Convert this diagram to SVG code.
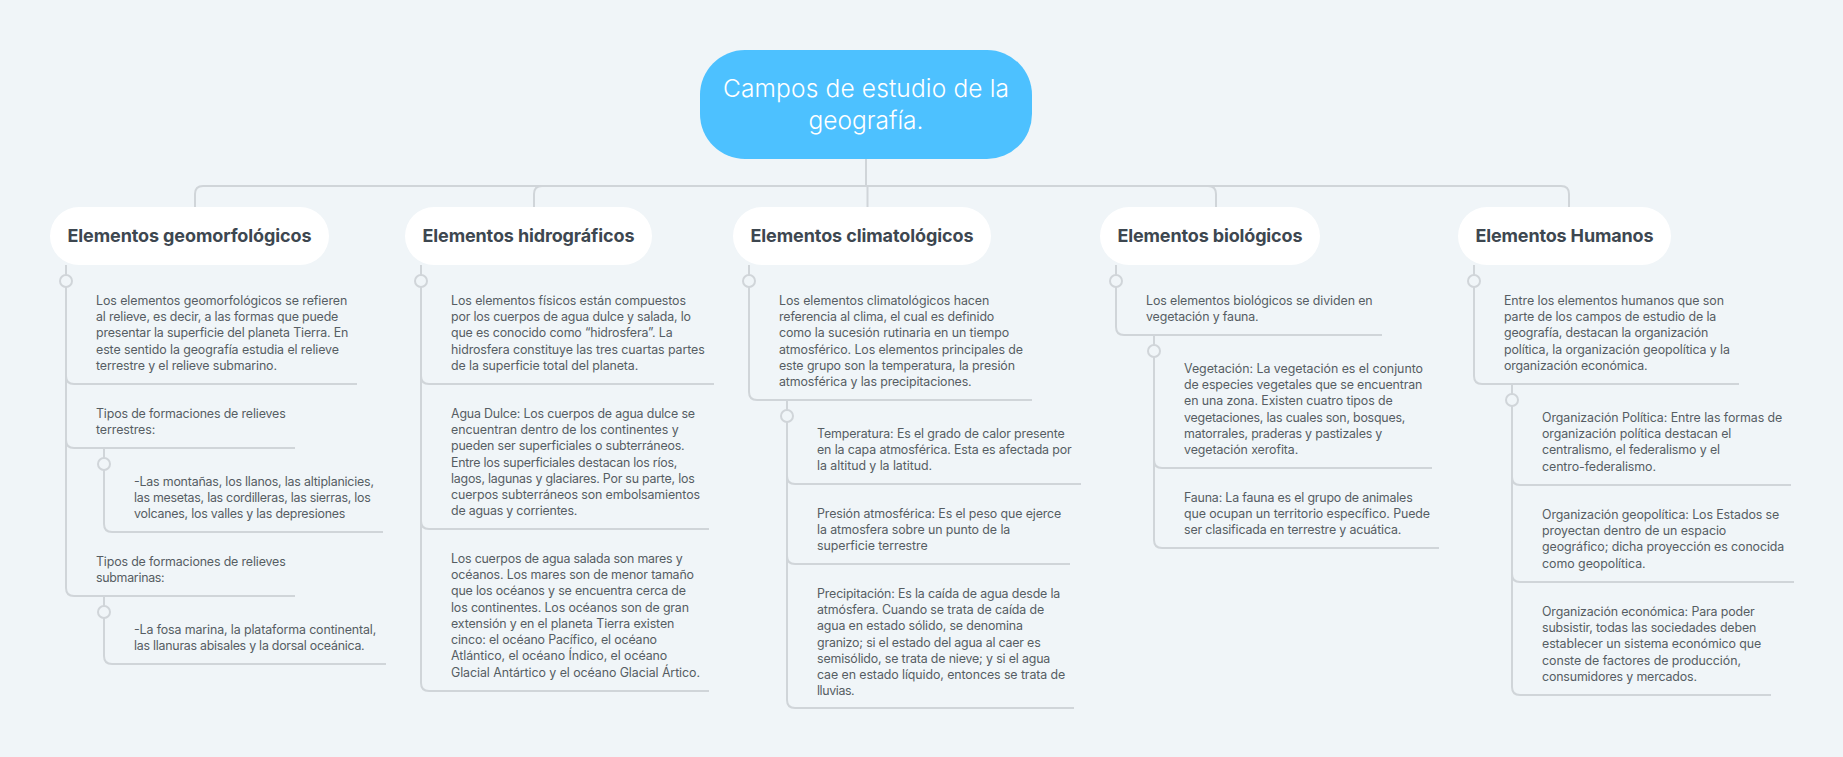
<svg xmlns="http://www.w3.org/2000/svg" width="1843" height="757" viewBox="0 0 1843 757">
<style>
.c{fill:none;stroke:#d0d5d9;stroke-width:2}
.d{fill:#f0f5f8;stroke:#d0d5d9;stroke-width:2}
text{font-family:"Inter","Noto Sans",sans-serif}
.b{font-size:12.4px;fill:#565d63}
.h{font-size:18px;font-weight:700;fill:#3d4750}
.r{font-size:24.5px;font-weight:300;fill:#fff;text-anchor:middle}
</style>
<rect width="1843" height="757" fill="#f0f5f8"/>
<g id="connectors">
<path class="c" d="M866 159V186"/>
<path class="c" d="M866 186H203Q195 186 195 194V207"/>
<path class="c" d="M866 186H542Q534 186 534 194V207"/>
<path class="c" d="M866 186H867.5V207"/>
<path class="c" d="M866 186H1208Q1216 186 1216 194V207"/>
<path class="c" d="M866 186H1561Q1569 186 1569 194V207"/>
<path class="c" d="M66 265V376Q66 384 74 384H357"/>
<path class="c" d="M66 265V440Q66 448 74 448H295"/>
<path class="c" d="M66 265V588Q66 596 74 596H295"/>
<path class="c" d="M104 448V524Q104 532 112 532H383"/>
<path class="c" d="M104 596V656Q104 664 112 664H386"/>
<path class="c" d="M421 265V376Q421 384 429 384H714"/>
<path class="c" d="M421 265V521Q421 529 429 529H709"/>
<path class="c" d="M421 265V683Q421 691 429 691H709"/>
<path class="c" d="M749 265V392Q749 400 757 400H1032"/>
<path class="c" d="M787 400V476Q787 484 795 484H1081"/>
<path class="c" d="M787 400V556Q787 564 795 564H1070"/>
<path class="c" d="M787 400V700Q787 708 795 708H1074"/>
<path class="c" d="M1116 265V327Q1116 335 1124 335H1382"/>
<path class="c" d="M1154 335V460Q1154 468 1162 468H1432"/>
<path class="c" d="M1154 335V540Q1154 548 1162 548H1439"/>
<path class="c" d="M1474 265V376Q1474 384 1482 384H1739"/>
<path class="c" d="M1512 384V477Q1512 485 1520 485H1791"/>
<path class="c" d="M1512 384V574Q1512 582 1520 582H1794"/>
<path class="c" d="M1512 384V687Q1512 695 1520 695H1771"/>
<circle class="d" cx="66" cy="281" r="6"/>
<circle class="d" cx="104" cy="464" r="6"/>
<circle class="d" cx="104" cy="612" r="6"/>
<circle class="d" cx="421" cy="281" r="6"/>
<circle class="d" cx="749" cy="281" r="6"/>
<circle class="d" cx="787" cy="416" r="6"/>
<circle class="d" cx="1116" cy="281" r="6"/>
<circle class="d" cx="1154" cy="351" r="6"/>
<circle class="d" cx="1474" cy="281" r="6"/>
<circle class="d" cx="1512" cy="400" r="6"/>
</g>
<g id="root"><rect x="700" y="50" width="332" height="109" rx="45" fill="#4dc1ff"/>
<text class="r"><tspan x="866" y="97" textLength="286">Campos de estudio de la</tspan><tspan x="866" y="129" textLength="115">geografía.</tspan></text></g>
<g id="n1"><rect x="50" y="207" width="279" height="58" rx="29" fill="#fff"/><text class="h" x="67.5" y="242" textLength="244">Elementos geomorfológicos</text></g>
<g id="n2"><rect x="405" y="207" width="247" height="58" rx="29" fill="#fff"/><text class="h" x="422.5" y="242" textLength="212">Elementos hidrográficos</text></g>
<g id="n3"><rect x="733" y="207" width="258" height="58" rx="29" fill="#fff"/><text class="h" x="750.5" y="242" textLength="223">Elementos climatológicos</text></g>
<g id="n4"><rect x="1100" y="207" width="220" height="58" rx="29" fill="#fff"/><text class="h" x="1117.5" y="242" textLength="185">Elementos biológicos</text></g>
<g id="n5"><rect x="1458" y="207" width="213" height="58" rx="29" fill="#fff"/><text class="h" x="1475.5" y="242" textLength="178">Elementos Humanos</text></g>
<g id="n1a"><text class="b"><tspan x="96" y="305" textLength="251.3">Los elementos geomorfológicos se refieren</tspan><tspan x="96" y="321" textLength="242.3">al relieve, es decir, a las formas que puede</tspan><tspan x="96" y="337" textLength="252.3">presentar la superficie del planeta Tierra. En</tspan><tspan x="96" y="354" textLength="243">este sentido la geografía estudia el relieve</tspan><tspan x="96" y="370" textLength="181">terrestre y el relieve submarino.</tspan></text></g>
<g id="n1b"><text class="b"><tspan x="96" y="418" textLength="189.7">Tipos de formaciones de relieves</tspan><tspan x="96" y="434" textLength="59.3">terrestres:</tspan></text></g>
<g id="n1b1"><text class="b"><tspan x="134" y="486" textLength="240">-Las montañas, los llanos, las altiplanicies,</tspan><tspan x="134" y="502" textLength="236.7">las mesetas, las cordilleras, las sierras, los</tspan><tspan x="134" y="518" textLength="211.3">volcanes, los valles y las depresiones</tspan></text></g>
<g id="n1c"><text class="b"><tspan x="96" y="566" textLength="189.7">Tipos de formaciones de relieves</tspan><tspan x="96" y="582" textLength="68.7">submarinas:</tspan></text></g>
<g id="n1c1"><text class="b"><tspan x="134" y="634" textLength="242.3">-La fosa marina, la plataforma continental,</tspan><tspan x="134" y="650" textLength="230.7">las llanuras abisales y la dorsal oceánica.</tspan></text></g>
<g id="n2a"><text class="b"><tspan x="451" y="305" textLength="235">Los elementos físicos están compuestos</tspan><tspan x="451" y="321" textLength="240">por los cuerpos de agua dulce y salada, lo</tspan><tspan x="451" y="337" textLength="221.7">que es conocido como “hidrosfera”. La</tspan><tspan x="451" y="354" textLength="253.7">hidrosfera constituye las tres cuartas partes</tspan><tspan x="451" y="370" textLength="187.3">de la superficie total del planeta.</tspan></text></g>
<g id="n2b"><text class="b"><tspan x="451" y="418" textLength="244">Agua Dulce: Los cuerpos de agua dulce se</tspan><tspan x="451" y="434" textLength="227.7">encuentran dentro de los continentes y</tspan><tspan x="451" y="450" textLength="233.7">pueden ser superficiales o subterráneos.</tspan><tspan x="451" y="467" textLength="226.3">Entre los superficiales destacan los ríos,</tspan><tspan x="451" y="483" textLength="243.7">lagos, lagunas y glaciares. Por su parte, los</tspan><tspan x="451" y="499" textLength="249">cuerpos subterráneos son embolsamientos</tspan><tspan x="451" y="515" textLength="126.3">de aguas y corrientes.</tspan></text></g>
<g id="n2c"><text class="b"><tspan x="451" y="563" textLength="231.7">Los cuerpos de agua salada son mares y</tspan><tspan x="451" y="579" textLength="243">océanos. Los mares son de menor tamaño</tspan><tspan x="451" y="595" textLength="235">que los océanos y se encuentra cerca de</tspan><tspan x="451" y="612" textLength="238">los continentes. Los océanos son de gran</tspan><tspan x="451" y="628" textLength="223.3">extensión y en el planeta Tierra existen</tspan><tspan x="451" y="644" textLength="206">cinco: el océano Pacífico, el océano</tspan><tspan x="451" y="660" textLength="216.3">Atlántico, el océano Índico, el océano</tspan><tspan x="451" y="677" textLength="249">Glacial Antártico y el océano Glacial Ártico.</tspan></text></g>
<g id="n3a"><text class="b"><tspan x="779" y="305" textLength="210.3">Los elementos climatológicos hacen</tspan><tspan x="779" y="321" textLength="215.3">referencia al clima, el cual es definido</tspan><tspan x="779" y="337" textLength="230.3">como la sucesión rutinaria en un tiempo</tspan><tspan x="779" y="354" textLength="244">atmosférico. Los elementos principales de</tspan><tspan x="779" y="370" textLength="236">este grupo son la temperatura, la presión</tspan><tspan x="779" y="386" textLength="192.7">atmosférica y las precipitaciones.</tspan></text></g>
<g id="n3b"><text class="b"><tspan x="817" y="438" textLength="247.7">Temperatura: Es el grado de calor presente</tspan><tspan x="817" y="454" textLength="254.7">en la capa atmosférica. Esta es afectada por</tspan><tspan x="817" y="470" textLength="115">la altitud y la latitud.</tspan></text></g>
<g id="n3c"><text class="b"><tspan x="817" y="518" textLength="244.3">Presión atmosférica: Es el peso que ejerce</tspan><tspan x="817" y="534" textLength="193.3">la atmosfera sobre un punto de la</tspan><tspan x="817" y="550" textLength="110.7">superficie terrestre</tspan></text></g>
<g id="n3d"><text class="b"><tspan x="817" y="598" textLength="243.3">Precipitación: Es la caída de agua desde la</tspan><tspan x="817" y="614" textLength="227.3">atmósfera. Cuando se trata de caída de</tspan><tspan x="817" y="630" textLength="206">agua en estado sólido, se denomina</tspan><tspan x="817" y="647" textLength="223.7">granizo; si el estado del agua al caer es</tspan><tspan x="817" y="663" textLength="233.3">semisólido, se trata de nieve; y si el agua</tspan><tspan x="817" y="679" textLength="248.3">cae en estado líquido, entonces se trata de</tspan><tspan x="817" y="695" textLength="37.7">lluvias.</tspan></text></g>
<g id="n4a"><text class="b"><tspan x="1146" y="305" textLength="226.7">Los elementos biológicos se dividen en</tspan><tspan x="1146" y="321" textLength="112.7">vegetación y fauna.</tspan></text></g>
<g id="n4b"><text class="b"><tspan x="1184" y="373" textLength="239">Vegetación: La vegetación es el conjunto</tspan><tspan x="1184" y="389" textLength="238.3">de especies vegetales que se encuentran</tspan><tspan x="1184" y="405" textLength="208.7">en una zona. Existen cuatro tipos de</tspan><tspan x="1184" y="422" textLength="221.3">vegetaciones, las cuales son, bosques,</tspan><tspan x="1184" y="438" textLength="198.3">matorrales, praderas y pastizales y</tspan><tspan x="1184" y="454" textLength="114.3">vegetación xerofita.</tspan></text></g>
<g id="n4c"><text class="b"><tspan x="1184" y="502" textLength="228.7">Fauna: La fauna es el grupo de animales</tspan><tspan x="1184" y="518" textLength="246">que ocupan un territorio específico. Puede</tspan><tspan x="1184" y="534" textLength="217.3">ser clasificada en terrestre y acuática.</tspan></text></g>
<g id="n5a"><text class="b"><tspan x="1504" y="305" textLength="220">Entre los elementos humanos que son</tspan><tspan x="1504" y="321" textLength="212.3">parte de los campos de estudio de la</tspan><tspan x="1504" y="337" textLength="204.3">geografía, destacan la organización</tspan><tspan x="1504" y="354" textLength="226">política, la organización geopolítica y la</tspan><tspan x="1504" y="370" textLength="143.7">organización económica.</tspan></text></g>
<g id="n5b"><text class="b"><tspan x="1542" y="422" textLength="240.3">Organización Política: Entre las formas de</tspan><tspan x="1542" y="438" textLength="189.3">organización política destacan el</tspan><tspan x="1542" y="454" textLength="178">centralismo, el federalismo y el</tspan><tspan x="1542" y="471" textLength="114">centro-federalismo.</tspan></text></g>
<g id="n5c"><text class="b"><tspan x="1542" y="519" textLength="237.3">Organización geopolítica: Los Estados se</tspan><tspan x="1542" y="535" textLength="184.3">proyectan dentro de un espacio</tspan><tspan x="1542" y="551" textLength="242.3">geográfico; dicha proyección es conocida</tspan><tspan x="1542" y="568" textLength="103.7">como geopolítica.</tspan></text></g>
<g id="n5d"><text class="b"><tspan x="1542" y="616" textLength="212.7">Organización económica: Para poder</tspan><tspan x="1542" y="632" textLength="214.3">subsistir, todas las sociedades deben</tspan><tspan x="1542" y="648" textLength="219.3">establecer un sistema económico que</tspan><tspan x="1542" y="665" textLength="199">conste de factores de producción,</tspan><tspan x="1542" y="681" textLength="155">consumidores y mercados.</tspan></text></g>
</svg>
